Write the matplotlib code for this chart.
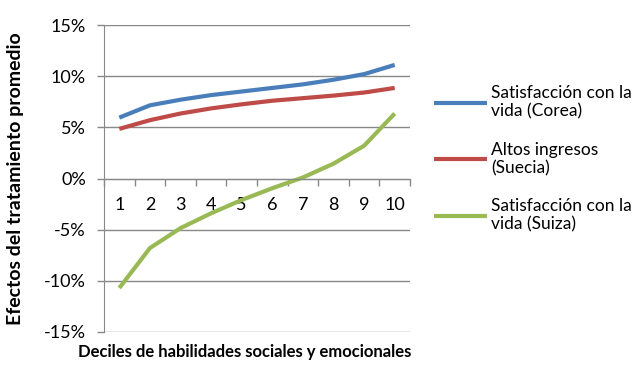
import numpy as np
import matplotlib.pyplot as plt
from matplotlib.ticker import FixedLocator, PercentFormatter

plt.rcParams["font.family"] = ["Lato", "DejaVu Sans"]
plt.rcParams["font.size"] = 11
plt.rcParams["axes.unicode_minus"] = False

deciles = ["1", "2", "3", "4", "5", "6", "7", "8", "9", "10"]
corea = [5.95, 7.15, 7.7, 8.15, 8.5, 8.85, 9.2, 9.65, 10.2, 11.1]
suecia = [4.85, 5.7, 6.35, 6.85, 7.25, 7.6, 7.85, 8.1, 8.4, 8.85]
suiza = [-10.7, -6.8, -4.85, -3.4, -2.1, -0.95, 0.1, 1.45, 3.2, 6.35]

series = [
    ("Satisfacción con la\nvida (Corea)", corea, "#4A7EBB"),
    ("Altos ingresos\n(Suecia)", suecia, "#BE4B48"),
    ("Satisfacción con la\nvida (Suiza)", suiza, "#98B954"),
]

fig = plt.figure(figsize=(6.35, 3.67), dpi=100)
ax = fig.add_axes([104 / 635, 1 - 332 / 367, 306 / 635, 307 / 367])

x = np.arange(1, len(deciles) + 1)
for label, vals, color in series:
    ax.plot(x, vals, color=color, lw=3, label=label, solid_capstyle="butt")

ax.set_xlim(0.5, len(deciles) + 0.5)
ax.set_ylim(-15, 15)
ax.set_yticks(np.arange(-15, 16, 5))
ax.yaxis.set_major_formatter(PercentFormatter(decimals=0))
ax.grid(axis="y", color="#888888", lw=1)
ax.set_axisbelow(True)

grey = "#888888"
for side in ["top", "right"]:
    ax.spines[side].set_visible(False)
ax.spines["left"].set_color(grey)
ax.spines["bottom"].set_color(grey)
ax.spines["bottom"].set_position(("data", 0))

# category boundaries get the tick marks, centres get the labels
ax.xaxis.set_major_locator(FixedLocator(np.arange(0.5, len(deciles) + 1, 1)))
ax.xaxis.set_major_formatter(plt.NullFormatter())
ax.xaxis.set_minor_locator(FixedLocator(x))
ax.set_xticklabels(deciles, minor=True)
ax.tick_params(axis="x", which="major", length=5, width=1, color=grey)
ax.tick_params(axis="x", which="minor", length=0, pad=13, labelsize=13)
ax.tick_params(axis="y", length=5, width=1, color=grey, pad=8, labelsize=13)

ax.set_ylabel("Efectos del tratamiento promedio", fontweight="bold", fontsize=14)
ax.yaxis.set_label_coords(-80 / 306, 0.5)
fig.text(245 / 635, 1 - 352 / 367, "Deciles de habilidades sociales y emocionales",
         ha="center", va="center", fontweight="bold", fontsize=12)

fig.legend(loc="center left", bbox_to_anchor=(418 / 635, 1 - 159 / 367), frameon=False,
           fontsize=12.5, handlelength=3.1, handletextpad=0.2, labelspacing=1.25)

plt.savefig("out.png", dpi=100)
